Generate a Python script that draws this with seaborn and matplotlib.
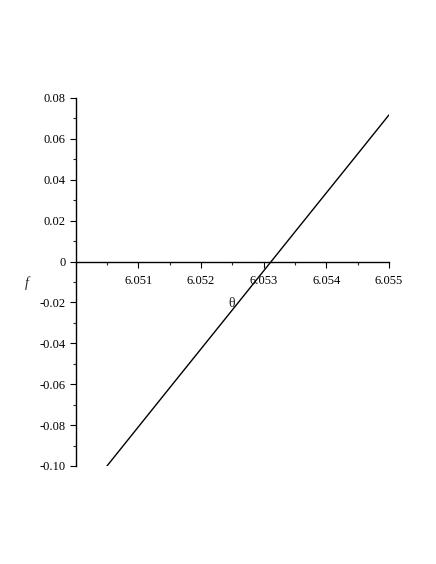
import matplotlib
matplotlib.use('Agg')
import matplotlib.pyplot as plt
import matplotlib.ticker as mticker
import numpy as np
import pandas as pd
import seaborn as sns

# data
theta = [6.0505, 6.0515, 6.0525, 6.0535, 6.0545, 6.055]
f = [-0.1000, -0.0618, -0.0237, 0.0145, 0.0526, 0.0717]
xticks = [6.051, 6.052, 6.053, 6.054, 6.055]
yticks = [-0.10, -0.08, -0.06, -0.04, -0.02, 0, 0.02, 0.04, 0.06, 0.08]

sns.set_style('ticks')
plt.rcParams['font.family'] = ['Liberation Serif', 'DejaVu Serif']
plt.rcParams['axes.unicode_minus'] = False

df = pd.DataFrame({'theta': theta, 'f': f})

fig = plt.figure(figsize=(4.36, 5.64), dpi=100)
ax = fig.add_axes([0.1735, 0.1738, 0.7186, 0.6525])
sns.lineplot(data=df, x='theta', y='f', color='black', linewidth=1.0, ax=ax)

ax.set_xlim(6.050, 6.055)
ax.set_ylim(-0.10, 0.08)
ax.spines['top'].set_visible(False)
ax.spines['right'].set_visible(False)
ax.spines['bottom'].set_position(('data', 0))
for s in ['left', 'bottom']:
    ax.spines[s].set_linewidth(1.0)
    ax.spines[s].set_color('black')

ax.set_xticks(xticks)
ax.set_xticklabels(['%.3f' % v for v in xticks])
ax.xaxis.set_minor_locator(mticker.MultipleLocator(0.0005))
ax.set_yticks(yticks)
ax.set_yticklabels(['0' if v == 0 else '%.2f' % v for v in yticks])
ax.yaxis.set_minor_locator(mticker.MultipleLocator(0.01))
ax.tick_params(axis='both', which='major', labelsize=9, length=4, width=0.8,
               direction='out', colors='black', pad=3)
ax.tick_params(axis='both', which='minor', length=2, width=0.8, direction='out')
ax.tick_params(axis='x', which='major', pad=6)

ax.set_xlabel('θ', fontsize=10)
ax.xaxis.set_label_coords(0.499, 0.458)
ax.set_ylabel('f', fontsize=10, style='italic', rotation=0, ha='center', va='center')
ax.yaxis.set_label_coords(-0.155, 0.497)

fig.savefig('out.png', dpi=100)
